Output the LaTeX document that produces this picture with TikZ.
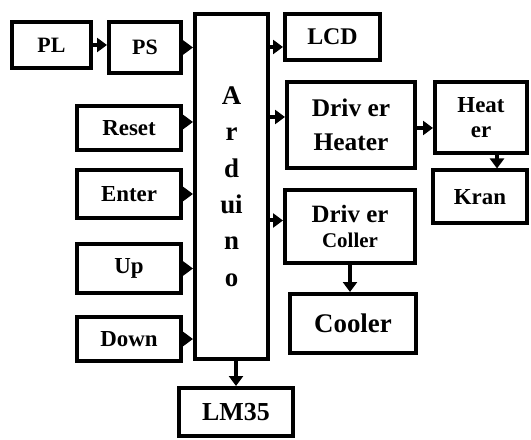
\documentclass[tikz,border=0pt]{standalone}
\usepackage{fontspec}
\setmainfont{Liberation Serif}
\usetikzlibrary{arrows.meta,positioning}
\definecolor{ink}{RGB}{0,0,0}
\tikzset{
  >={Triangle[length=10bp,width=14bp]},
  blk/.style={draw=ink,line width=4bp,inner sep=0pt,align=center,
    font=\bfseries\fontsize{#1}{#1}\selectfont},
  blk/.default=22,
  flow/.style={->,line width=4bp,draw=ink},
}
\newcommand{\fsz}[2]{\fontsize{#1}{#2}\selectfont}
\begin{document}
\begin{tikzpicture}[x=1bp,y=-1bp]
  \useasboundingbox (0,0) rectangle (531,440);
  % inputs
  \node[blk,minimum width=79bp,minimum height=46bp] (pl) at (51.5,45) {PL};
  \node[blk,minimum width=72bp,minimum height=51bp] (ps) at (145,47.5) {PS};
  \node[blk=23,minimum width=104bp,minimum height=44bp] (reset) at (129,128) {Reset};
  \node[blk=23,minimum width=104bp,minimum height=48bp] (enter) at (129,194) {Enter};
  \node[blk=23,minimum width=104bp,minimum height=49bp] (up) at (129,268.5) {Up};
  \node[blk=23,minimum width=104bp,minimum height=44bp] (down) at (129,339) {Down};
  % controller
  \node[blk,minimum width=73bp,minimum height=345bp,font=\bfseries\fsz{27}{36.6}] (ard) at (231.5,186.5) {A\\r\\d\\ui\\n\\o};
  \node[blk=26,minimum width=114bp,minimum height=48bp] (lm) at (236,412) {LM35};
  % outputs
  \node[blk=24,minimum width=95bp,minimum height=46bp] (lcd) at (332.5,37) {LCD};
  \node[blk,minimum width=128bp,minimum height=86bp,font=\bfseries\fsz{25.5}{34}] (drvh) at (351,125) {Driv er\\Heater};
  \node[blk,minimum width=92bp,minimum height=71bp,font=\bfseries\fsz{23}{25}] (heater) at (481,117.5) {Heat\\er};
  \node[blk=23,minimum width=94bp,minimum height=53bp] (kran) at (480,197) {Kran};
  \node[blk,minimum width=130bp,minimum height=73bp,font=\bfseries\fsz{25}{26}] (drvc) at (350,226.5) {Driv er\\{\fsz{21}{21}Coller}};
  \node[blk=27,minimum width=126bp,minimum height=59bp] (cooler) at (353,323.5) {Cooler};
  % connectors
  \coordinate (rsin) at ([yshift=6bp]reset.east);
  \coordinate (lcdin) at ([yshift=-10bp]lcd.west);
  \coordinate (drvhin) at ([yshift=8bp]drvh.west);
  \coordinate (drvcin) at ([yshift=6bp]drvc.west);
  \coordinate (kranin) at ([xshift=17bp]kran.north);
  \draw[flow] (pl.east) -- (ps.west |- pl.east);
  \draw[flow] (ps.east) -- (ps.east -| ard.west);
  \draw[flow] (rsin) -- (rsin -| ard.west);
  \foreach \n in {enter,up,down}
    \draw[flow] (\n.east) -- (\n.east -| ard.west);
  \draw[flow] (ard.east |- lcdin) -- (lcdin);
  \draw[flow] (ard.east |- drvhin) -- (drvhin);
  \draw[flow] (ard.east |- drvcin) -- (drvcin);
  \draw[flow] ([yshift=-3bp]drvh.east) -- ([yshift=-3bp]drvh.east -| heater.west);
  \draw[flow] (heater.south -| kranin) -- (kranin);
  \draw[flow] (drvc.south) -- (drvc.south |- cooler.north);
  \draw[flow] (lm.north |- ard.south) -- (lm.north);
\end{tikzpicture}
\end{document}
